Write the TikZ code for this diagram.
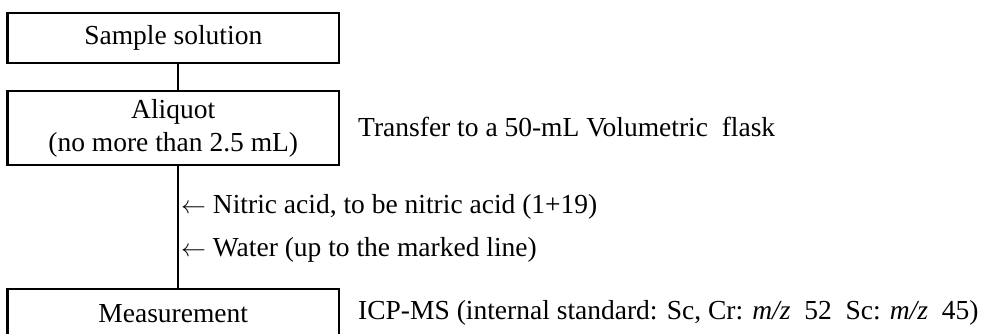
\documentclass[tikz,border=0pt]{standalone}
\usepackage{fontspec}
\setmainfont{Liberation Serif}
\begin{document}
\begin{tikzpicture}[x=1pt,y=-1pt,
  box/.style={draw,line width=2.4pt,minimum width=331.5pt,inner sep=0pt,align=center,
    font=\fontsize{27.5}{33}\selectfont},
  lbl/.style={anchor=west,inner sep=0pt,font=\fontsize{27.5}{33}\selectfont},
  conn/.style={line width=2.8pt}]
\useasboundingbox (0,0) rectangle (988,333);
\node[box,minimum height=50pt] (b1) at (173.25,38) {Sample solution};
\node[box,minimum height=74pt] (b2) at (173.25,128) {Aliquot\\(no more than 2.5 mL)};
\node[box,minimum height=50pt] (b3) at (173.25,314) {Measurement};
\coordinate (cx) at (178,0);
\draw[conn] (b1.south -| cx) -- (b2.north -| cx);
\draw[conn] (b2.south -| cx) -- (b3.north -| cx);
\node[lbl] (t1) at (358,127) {Transfer to a 50-mL Volumetric\ \ flask};
\node[lbl] (t2) at (181,207) {$\leftarrow$ Nitric acid, to be nitric acid (1+19)};
\node[lbl] (t3) at (181,250) {$\leftarrow$ Water (up to the marked line)};
\node[lbl] (t4) at (358,313) {ICP-MS (internal standard: Sc, Cr: \textit{m/z}\ \ 52\ \ Sc: \textit{m/z}\ \ 45)};
\end{tikzpicture}
\end{document}
